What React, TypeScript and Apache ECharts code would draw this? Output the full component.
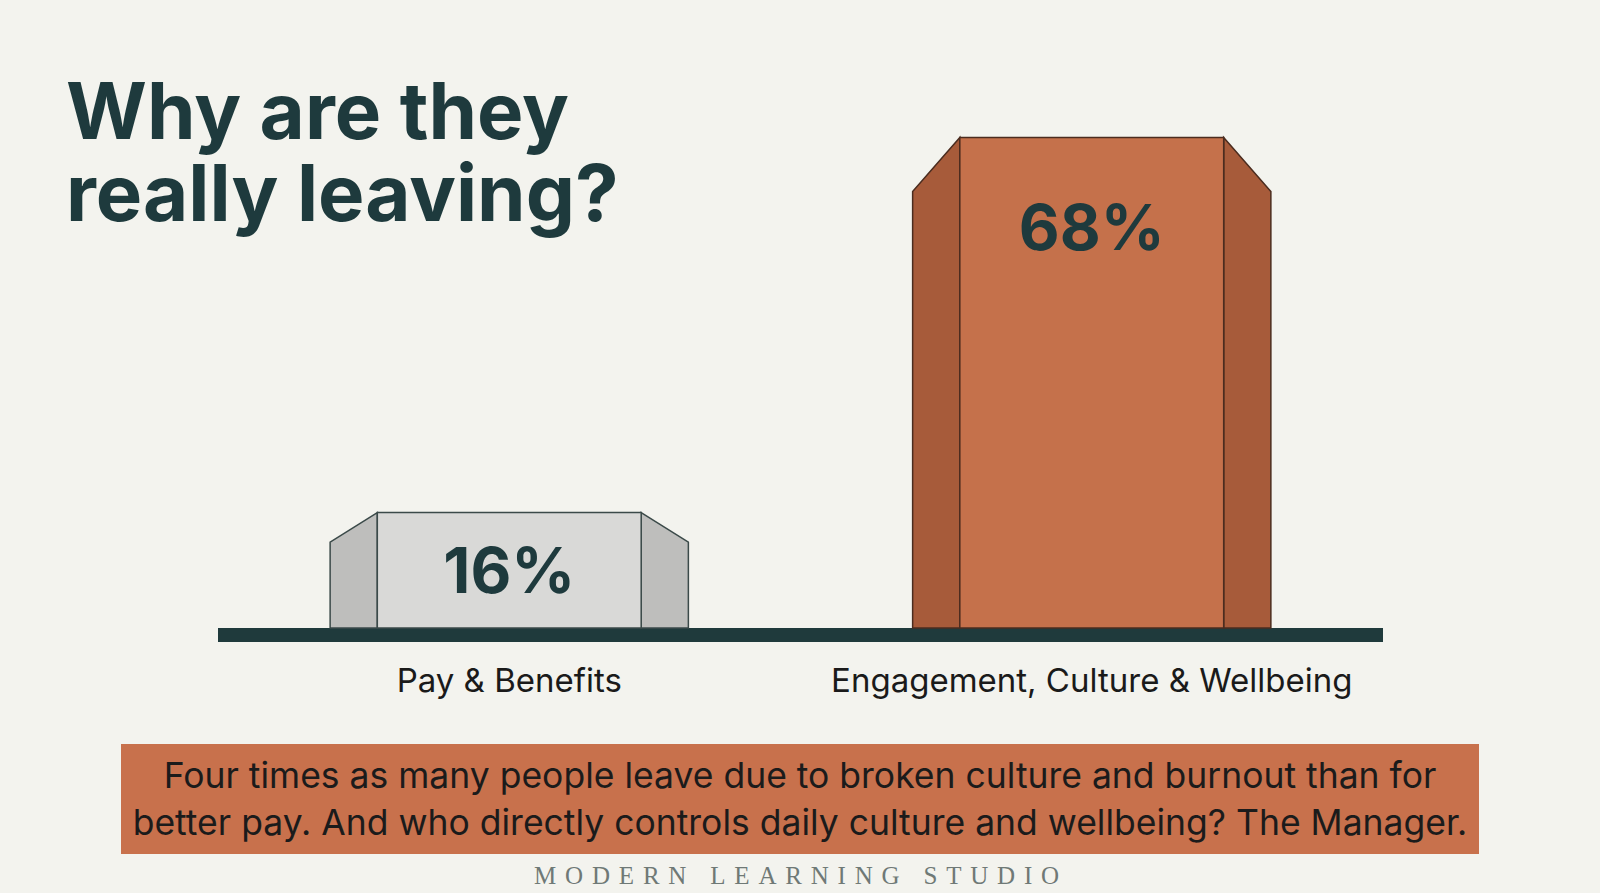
import React, { useEffect, useRef } from "react";
import * as echarts from "echarts";

const categories = ["Pay & Benefits", "Engagement, Culture & Wellbeing"];
const values = [16, 68];
const valueLabels = ["16%", "68%"];
const titleLines = ["Why are they", "really leaving?"];
const calloutLines = [
  "Four times as many people leave due to broken culture and burnout than for",
  "better pay. And who directly controls daily culture and wellbeing? The Manager.",
];
const footerText = "MODERN LEARNING STUDIO";

const FRONT_COLORS = ["#d9d9d7", "#c5714b"];
const SIDE_COLORS = ["#bebebc", "#a75b3a"];
const STROKE_COLORS = ["#3b4a49", "#4b2c1f"];
const DARK = "#1e3a3d";
const BG = "#f3f3ee";

export default function App() {
  const ref = useRef<HTMLDivElement>(null);
  useEffect(() => {
    document.body.style.margin = "0";
    document.body.style.background = BG;
    const chart = echarts.init(ref.current!, null, { renderer: "svg" });
    const option: any = {
      animation: false,
      backgroundColor: BG,
      grid: { left: 218, right: 217, top: 51, bottom: 265 },
      xAxis: {
        type: "category",
        data: categories,
        offset: 7,
        axisLine: { show: true, onZero: false, lineStyle: { color: "#1f3a3c", width: 14, cap: "butt" } },
        axisTick: { show: false },
        axisLabel: { interval: 0, fontFamily: "Inter", fontSize: 33, color: "#1a1a1a", margin: 28 },
        splitLine: { show: false },
      },
      yAxis: { type: "value", min: 0, max: 80, show: false },
      series: [
        {
          type: "custom",
          data: values.map((v, i) => [i, v]),
          encode: { x: 0, y: 1 },
          renderItem: (params: any, api: any) => {
            const i = params.dataIndex;
            const idx = api.value(0);
            const val = api.value(1);
            const top = api.coord([idx, val]);
            const base = api.coord([idx, 0]);
            const band = api.size([1, 0])[0];
            const fw = band * 0.453;
            const sw = band * 0.081;
            const cx = top[0];
            const h = base[1] - top[1];
            const drop = 22 + 0.065 * h;
            const l = cx - fw / 2;
            const r = cx + fw / 2;
            const stroke = STROKE_COLORS[i];
            return {
              type: "group",
              children: [
                {
                  type: "polygon",
                  shape: { points: [[l, top[1]], [l - sw, top[1] + drop], [l - sw, base[1]], [l, base[1]]] },
                  style: { fill: SIDE_COLORS[i], stroke, lineWidth: 1.5 },
                },
                {
                  type: "polygon",
                  shape: { points: [[r, top[1]], [r + sw, top[1] + drop], [r + sw, base[1]], [r, base[1]]] },
                  style: { fill: SIDE_COLORS[i], stroke, lineWidth: 1.5 },
                },
                {
                  type: "rect",
                  shape: { x: l, y: top[1], width: fw, height: h },
                  style: { fill: FRONT_COLORS[i], stroke, lineWidth: 1.5 },
                },
                {
                  type: "text",
                  x: cx,
                  y: top[1] + Math.min(h / 2, 89),
                  style: {
                    text: valueLabels[i],
                    fill: DARK,
                    font: "bold 63px Inter",
                    align: "center",
                    verticalAlign: "middle",
                  },
                },
              ],
            };
          },
        },
      ],
      graphic: [
        {
          type: "text",
          left: 66,
          top: 69,
          style: { text: titleLines.join("\n"), font: "bold 78px Inter", lineHeight: 82, fill: DARK },
        },
        {
          type: "rect",
          shape: { x: 121, y: 744, width: 1358, height: 110 },
          style: { fill: "#c8714c" },
        },
        {
          type: "text",
          x: 800,
          y: 799,
          style: {
            text: calloutLines.join("\n"),
            font: "35.5px Inter",
            lineHeight: 47,
            fill: "#1b1b1b",
            align: "center",
            verticalAlign: "middle",
          },
        },
        {
          type: "text",
          x: 801,
          y: 875,
          style: {
            text: footerText,
            font: '25px "Liberation Serif"',
            fill: "#6f7976",
            align: "center",
            verticalAlign: "middle",
          },
        },
      ],
    };
    chart.setOption(option);
    return () => chart.dispose();
  }, []);
  return (
    <>
      <style>{`svg text[style*="Liberation Serif"]{letter-spacing:8.8px;}`}</style>
      <div ref={ref} style={{ width: 1600, height: 893 }} />
    </>
  );
}
